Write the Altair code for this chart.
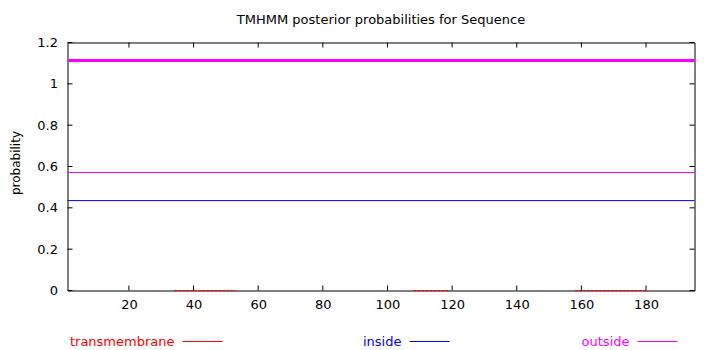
import altair as alt
import pandas as pd

FONT = "DejaVu Sans"

# ---- data ----
seq_len = 195
positions = [1, seq_len]
outside_prob = [0.571, 0.571]
inside_prob = [0.435, 0.435]
topology_level = [1.113, 1.113]        # predicted topology: whole sequence outside
tm_starts = [34, 108, 158]
tm_ends = [53, 119, 180]
tm_prob = [0.0, 0.0, 0.0]
x_ticks = [20, 40, 60, 80, 100, 120, 140, 160, 180]
y_ticks = [0, 0.2, 0.4, 0.6, 0.8, 1.0, 1.2]
legend_names = ["transmembrane", "inside", "outside"]
legend_colors = ["#ff0000", "#0000ff", "#ff00ff"]

W, H = 627, 248

xscale = alt.Scale(domain=[1, seq_len], nice=False, zero=False)
yscale = alt.Scale(domain=[0, 1.2], nice=False, zero=True)

xaxis = alt.Axis(values=x_ticks, title=None, tickSize=0, domain=False, grid=False,
                 labelFont=FONT, labelFontSize=13, labelColor="black",
                 labelPadding=8, labelFlush=False)
yaxis = alt.Axis(values=y_ticks, format="~g", title="probability", tickSize=0,
                 domain=False, grid=False, labelFont=FONT, labelFontSize=13,
                 labelColor="black", labelPadding=10, labelFlush=False,
                 titleFont=FONT, titleFontSize=12, titleFontWeight="normal",
                 titleColor="black", titleX=-52, titleY=120, titleAngle=270,
                 titleAlign="center", titleBaseline="middle")

X = lambda f: alt.X(f, type="quantitative", scale=xscale, axis=xaxis)
Y = lambda f: alt.Y(f, type="quantitative", scale=yscale, axis=yaxis)

prob_df = pd.DataFrame({"pos": positions, "outside": outside_prob,
                        "inside": inside_prob, "topo": topology_level})

outside_line = alt.Chart(prob_df).mark_line(color="#ff00ff", strokeWidth=1).encode(
    x=X("pos"), y=Y("outside"))
inside_line = alt.Chart(prob_df).mark_line(color="#0000ff", strokeWidth=1).encode(
    x=X("pos"), y=Y("inside"))
topo_line = alt.Chart(prob_df).mark_line(color="#ff00ff", strokeWidth=3).encode(
    x=X("pos"), y=Y("topo"))

tm_rows = []
for i, (s, e, p) in enumerate(zip(tm_starts, tm_ends, tm_prob)):
    tm_rows.append({"pos": s, "tm": p, "seg": i})
    tm_rows.append({"pos": e, "tm": p, "seg": i})
tm_df = pd.DataFrame(tm_rows)
tm_line = alt.Chart(tm_df).mark_line(color="#ff0000", strokeWidth=1,
                                     strokeDash=[3, 1]).encode(
    x=X("pos"), y=Y("tm"), detail="seg:N")

# inward ticks on all four sides
xt = pd.DataFrame({"pos": x_ticks})
yt = pd.DataFrame({"p": y_ticks})
TL = 5
xb = alt.Chart(xt).mark_rule(color="black").encode(
    x=X("pos"), y=alt.value(H), y2=alt.value(H - TL))
xtop = alt.Chart(xt).mark_rule(color="black").encode(
    x=X("pos"), y=alt.value(0), y2=alt.value(TL))
yl = alt.Chart(yt).mark_rule(color="black").encode(
    y=Y("p"), x=alt.value(0), x2=alt.value(TL))
yr = alt.Chart(yt).mark_rule(color="black").encode(
    y=Y("p"), x=alt.value(W), x2=alt.value(W - TL))

# legend below the plot (gnuplot style: text, then line sample)
legend_layers = []
legend_line_x = [115, 342, 570]
for name, col, lx in zip(legend_names, legend_colors, legend_line_x):
    ldf = pd.DataFrame({"label": [name]})
    legend_layers.append(alt.Chart(ldf).mark_text(
        align="right", baseline="middle", font=FONT, fontSize=13, color=col).encode(
        text="label:N", x=alt.value(lx - 8), y=alt.value(299.5)))
    legend_layers.append(alt.Chart(ldf).mark_rule(color=col, strokeWidth=1).encode(
        x=alt.value(lx), x2=alt.value(lx + 40), y=alt.value(299)))

chart = alt.layer(
    outside_line, inside_line, topo_line, tm_line, xb, xtop, yl, yr, *legend_layers
).properties(
    width=W, height=H,
    title=alt.TitleParams("TMHMM posterior probabilities for Sequence", font=FONT,
                          fontSize=13, fontWeight="normal", color="black",
                          anchor="middle", offset=10),
    autosize=alt.AutoSizeParams(type="none"),
    padding={"left": 67.5, "top": 42.5, "right": 15.5, "bottom": 59.5},
).configure(background="white").configure_view(stroke="black", strokeWidth=1)

chart.save("out.html", embed_options={"renderer": "svg", "actions": False})
